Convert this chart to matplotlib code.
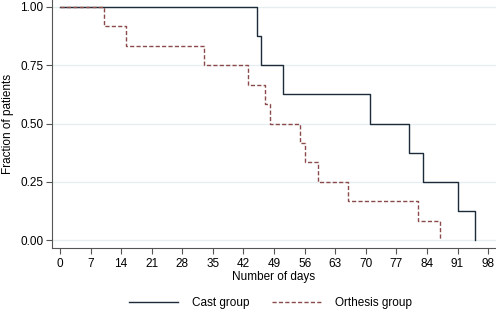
import matplotlib
matplotlib.use("Agg")
import matplotlib.pyplot as plt

plt.rcParams['font.family'] = ['Liberation Sans', 'DejaVu Sans']

# Kaplan-Meier style step data (days, fraction of patients)
cast_days = [0, 45, 46, 51, 71, 80, 83, 91, 95]
cast_frac = [1.0, 0.875, 0.75, 0.625, 0.5, 0.375, 0.25, 0.125, 0.0]

orth_days = [0, 10, 15, 33, 43, 47, 48, 55, 56, 59, 66, 82, 87]
orth_frac = [1.0, 0.9167, 0.8333, 0.75, 0.6667, 0.5833, 0.5, 0.4167,
             0.3333, 0.25, 0.1667, 0.0833, 0.0]

x_ticks = list(range(0, 99, 7))
y_ticks = [0.0, 0.25, 0.5, 0.75, 1.0]

fig = plt.figure(figsize=(4.96, 3.09), dpi=100)
ax = fig.add_axes([0.1048, 0.1974, 0.8952, 0.8026])

for y in y_ticks:
    ax.axhline(y, color='#e6eef0', lw=1.0, zorder=0)

ax.step(cast_days, cast_frac, where='post', color='#1c2b3a', lw=1.0,
        label='Cast group')
ax.step(orth_days, orth_frac, where='post', color='#8a4a4a', lw=1.0,
        ls=(0, (3, 1.6)), label='Orthesis group')

ax.set_xlim(-1.83, 99.8)
ax.set_ylim(-0.034, 1.03)
ax.set_xticks(x_ticks)
ax.set_yticks(y_ticks)
ax.set_yticklabels(['0.00', '0.25', '0.50', '0.75', '1.00'])

for s in ['top', 'right']:
    ax.spines[s].set_visible(False)
for s in ['left', 'bottom']:
    ax.spines[s].set_color('#555555')
    ax.spines[s].set_linewidth(0.8)
ax.tick_params(axis='both', colors='#555555', labelcolor='black',
               labelsize=8.5, length=4, width=0.8)
ax.tick_params(axis='y', pad=2)
ax.tick_params(axis='x', pad=3)

ax.set_xlabel('Number of days', fontsize=8.5, labelpad=1)
ax.set_ylabel('Fraction of patients', fontsize=8.5, labelpad=5)

fig.legend(loc='lower center', bbox_to_anchor=(0.545, -0.035), ncol=2,
           frameon=False, fontsize=8.5, handlelength=4.2, columnspacing=1.9,
           handletextpad=1.15)

fig.savefig('out.png', dpi=100, facecolor='white')
